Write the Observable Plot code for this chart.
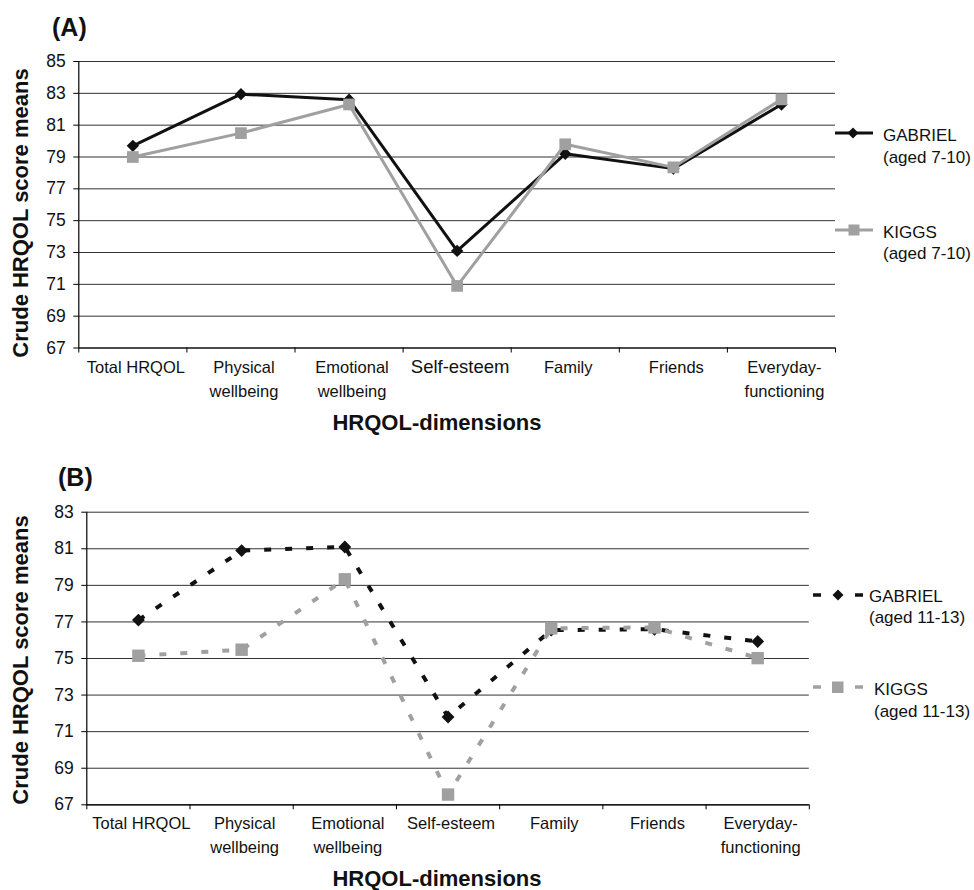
<!DOCTYPE html>
<html><head><meta charset="utf-8">
<script src="https://cdn.jsdelivr.net/npm/d3@7"></script>
<script src="https://cdn.jsdelivr.net/npm/@observablehq/plot@0.6"></script>
<style>
body{margin:0;background:#fff;font-family:"Liberation Sans",Arial,sans-serif;}
#wrap{position:relative;width:974px;height:890px;overflow:hidden;background:#fff;}
.abs{position:absolute;white-space:nowrap;color:#111;}
.panel{position:absolute;left:0;}
.leg{font-size:17px;line-height:21.5px;color:#111;}
</style></head><body><div id="wrap"></div>
<script>
// Categories
const dimensions = ["Total HRQOL","Physical\nwellbeing","Emotional\nwellbeing","Self-esteem","Family","Friends","Everyday-\nfunctioning"];
// Panel A (aged 7-10)
const gabrielA = [79.7, 82.95, 82.6, 73.1, 79.2, 78.27, 82.3];
const kiggsA   = [79.0, 80.5, 82.3, 70.9, 79.8, 78.35, 82.62];
// Panel B (aged 11-13)
const gabrielB = [77.1, 80.9, 81.1, 71.8, 76.55, 76.6, 75.93];
const kiggsB   = [75.15, 75.48, 79.33, 67.56, 76.65, 76.7, 75.02];
// Tick labels
const yTicksA = [67, 69, 71, 73, 75, 77, 79, 81, 83, 85];
const yTicksB = [67, 69, 71, 73, 75, 77, 79, 81, 83];
const legendA = [["GABRIEL", "(aged 7-10)"], ["KIGGS", "(aged 7-10)"]];
const legendB = [["GABRIEL", "(aged 11-13)"], ["KIGGS", "(aged 11-13)"]];

const FONT = '"Liberation Sans", Arial, sans-serif';
const BLACK = "#111", GRAY = "#a0a0a0";

function rows(vals){ return vals.map((v,i)=>({x:i+0.5, v, name:dimensions[i]})); }

function panel(o){
  const g = rows(o.gab), k = rows(o.kig);
  const centers = dimensions.map((d,i)=>i+0.5);
  const bounds = d3.range(dimensions.length+1);
  const normalC = o.bigSelf ? centers.filter(c=>c!==3.5) : centers;
  const lineOpts = o.dash ? {strokeDasharray:o.dash, strokeLinecap:"butt", strokeLinejoin:"miter"} : {};
  const marks = [
    Plot.gridY(o.yTicks, {stroke:"#333", strokeOpacity:1, strokeWidth:1}),
    Plot.axisY({ticks:o.yTicks, tickSize:5, tickPadding:8, fontSize:17.5, label:null, stroke:"#000", color:"#111"}),
    Plot.ruleX([0], {stroke:"#000", strokeWidth:1.2}),
    Plot.ruleY([o.yDomain[0]], {stroke:"#000", strokeWidth:1.2}),
    Plot.axisX({ticks:bounds, tickSize:5, tickFormat:()=>"", label:null, stroke:"#000"}),
    Plot.axisX({ticks:normalC, tickSize:0, tickPadding:o.pad, tickFormat:t=>dimensions[t-0.5], fontSize:16.5, lineHeight:o.lh, label:null, dx:3, color:"#111"}),
  ];
  if (o.bigSelf) marks.push(Plot.axisX({ticks:[3.5], tickSize:0, tickPadding:11.5, tickFormat:t=>dimensions[t-0.5], fontSize:18.5, label:null, dx:3, color:"#111"}));
  marks.push(
    Plot.line(g, {x:"x", y:"v", stroke:BLACK, strokeWidth:o.sw, ...lineOpts}),
    Plot.dot(g, {x:"x", y:"v", symbol:"diamond2", r:o.rD, fill:BLACK, stroke:"none"}),
    Plot.line(k, {x:"x", y:"v", stroke:GRAY, strokeWidth:o.sw, ...lineOpts}),
    Plot.dot(k, {x:"x", y:"v", symbol:"square", r:o.rS, fill:GRAY, stroke:"none"})
  );
  return Plot.plot({
    width:974, height:o.height,
    marginTop:o.mt, marginBottom:o.mb, marginLeft:o.ml, marginRight:o.mr,
    x:{domain:[0,dimensions.length], axis:null},
    y:{domain:o.yDomain, axis:null},
    style:{fontFamily:FONT, background:"#fff", overflow:"visible"},
    marks
  });
}

const wrap = document.getElementById("wrap");
function place(el, top){ const d=document.createElement("div"); d.className="panel"; d.style.top=top+"px"; d.appendChild(el); wrap.appendChild(d); }

place(panel({gab:gabrielA, kig:kiggsA, yDomain:[67,85], yTicks:yTicksA, height:440,
  mt:61, mb:92.5, ml:78.3, mr:139, pad:8.5, lh:1.45, rD:5.6, rS:6.6, sw:3, bigSelf:true}), 0);
place(panel({gab:gabrielB, kig:kiggsB, yDomain:[67,83], yTicks:yTicksB, height:450,
  mt:71.7, mb:85.7, ml:86.3, mr:165.2, pad:8, lh:1.42, rD:5.8, rS:7, sw:4, dash:"7,14"}), 440);

function text(str, css){ const d=document.createElement("div"); d.className="abs"; d.textContent=str; Object.assign(d.style, css); wrap.appendChild(d); return d; }

// Panel labels
text("(A)", {left:"52px", top:"15px", fontSize:"25px", lineHeight:"25px", fontWeight:"bold"});
text("(B)", {left:"58px", top:"465px", fontSize:"25px", lineHeight:"25px", fontWeight:"bold"});
// Y axis titles
function ytitle(cy){ text("Crude HRQOL score means", {left:(21-170)+"px", top:(cy-11)+"px", width:"340px", height:"22px", textAlign:"center", fontSize:"22px", lineHeight:"22px", fontWeight:"bold", transform:"rotate(-90deg)", transformOrigin:"50% 50%"}); }
ytitle(213); ytitle(660);
// X axis titles
function xtitle(cy){ text("HRQOL-dimensions", {left:(437-150)+"px", width:"300px", textAlign:"center", top:(cy-10.7)+"px", fontSize:"22px", lineHeight:"22px", fontWeight:"bold"}); }
xtitle(422.7); xtitle(879);

// Legends
const NS="http://www.w3.org/2000/svg";
function swatch(left, cy, color, kind, dashed){
  const s=document.createElementNS(NS,"svg"); s.setAttribute("width","52"); s.setAttribute("height","20");
  s.style.position="absolute"; s.style.left=left+"px"; s.style.top=(cy-10)+"px"; s.style.overflow="visible";
  const add=(tag,attrs)=>{const e=document.createElementNS(NS,tag); for(const k in attrs) e.setAttribute(k,attrs[k]); s.appendChild(e);};
  if(!dashed){
    add("line",{x1:0,x2:38,y1:10,y2:10,stroke:color,"stroke-width":3});
    if(kind==="d") add("path",{d:"M18,4.5L23.5,10L18,15.5L12.5,10Z",fill:color});
    else add("rect",{x:13.5,y:4.5,width:11,height:11,fill:color});
  } else {
    add("line",{x1:0,x2:8,y1:10,y2:10,stroke:color,"stroke-width":3.5});
    add("line",{x1:42,x2:50,y1:10,y2:10,stroke:color,"stroke-width":3.5});
    if(kind==="d") add("path",{d:"M25,4.5L30.5,10L25,15.5L19.5,10Z",fill:color});
    else add("rect",{x:19,y:4.5,width:11.5,height:11.5,fill:color});
  }
  wrap.appendChild(s);
}
function legText(lines, left, cy){ const d=document.createElement("div"); d.className="abs leg"; d.style.left=left+"px"; d.style.top=(cy-10.75)+"px"; d.innerHTML=lines.map(l=>`<div>${l}</div>`).join(""); wrap.appendChild(d); }

swatch(835, 133.3, BLACK, "d", false); legText(legendA[0], 883, 136);
swatch(835, 230, GRAY, "s", false);   legText(legendA[1], 883, 232.5);
swatch(813, 595, BLACK, "d", true);   legText(legendB[0], 869, 596.5);
swatch(813, 687, GRAY, "s", true);    legText(legendB[1], 874, 689.8);
</script></body></html>
